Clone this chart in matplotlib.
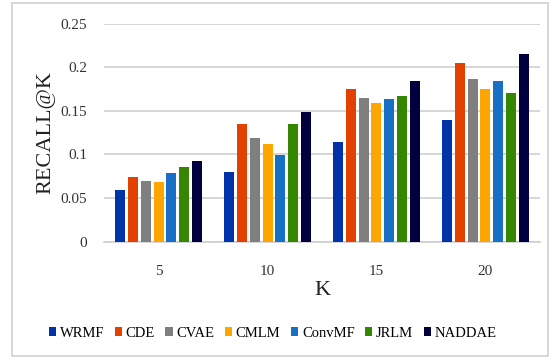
import matplotlib.pyplot as plt
import numpy as np
from matplotlib.patches import Rectangle

plt.rcParams['font.family'] = ['Liberation Serif', 'DejaVu Serif']

# datos
k_values = ['5', '10', '15', '20']
modelos = ['WRMF', 'CDE', 'CVAE', 'CMLM', 'ConvMF', 'JRLM', 'NADDAE']
recall = {
    'WRMF':   [0.059, 0.080, 0.114, 0.139],
    'CDE':    [0.074, 0.135, 0.175, 0.205],
    'CVAE':   [0.070, 0.119, 0.165, 0.187],
    'CMLM':   [0.068, 0.112, 0.159, 0.175],
    'ConvMF': [0.079, 0.099, 0.164, 0.184],
    'JRLM':   [0.086, 0.135, 0.167, 0.170],
    'NADDAE': [0.093, 0.149, 0.184, 0.215],
}
colores = ['#0033A8', '#E24100', '#7F7F7F', '#FFA500', '#1870C5', '#358600', '#00003F']

fig = plt.figure(figsize=(5.6, 3.59), dpi=100)
ax = fig.add_axes([0.186, 0.327, 0.778, 0.607])

# marco exterior del grafico
fig.patches.append(Rectangle((12 / 560, 3 / 359), 536 / 560, 353 / 359,
                             transform=fig.transFigure, fill=False,
                             edgecolor='#D0D0D0', linewidth=1.2))

index = np.arange(len(k_values))
paso = 0.117
ancho = 0.092
for i, (m, c) in enumerate(zip(modelos, colores)):
    ax.bar(index + (i - 3) * paso, recall[m], ancho, color=c, label=m, zorder=3)

ax.set_xlim(-0.5, 3.5)
ax.set_ylim(0, 0.25)
ax.set_yticks([0, 0.05, 0.1, 0.15, 0.2, 0.25])
ax.set_yticklabels(['0', '0.05', '0.1', '0.15', '0.2', '0.25'])
ax.set_xticks(index)
ax.set_xticklabels(k_values)
ax.tick_params(axis='both', length=0, labelsize=11, colors='#333333')
ax.tick_params(axis='x', pad=17)
ax.tick_params(axis='y', pad=12)
ax.grid(axis='y', color='#CFCFCF', linewidth=1.2, zorder=0)
for s in ['top', 'right', 'left']:
    ax.spines[s].set_visible(False)
ax.spines['bottom'].set_color('#CFCFCF')
ax.spines['bottom'].set_linewidth(1.2)

ax.set_ylabel('RECALL@K', fontsize=16, color='#222222', labelpad=4)
ax.set_xlabel('K', fontsize=16, color='#222222', labelpad=2)

fig.legend(loc='center', bbox_to_anchor=(0.487, 0.072), ncol=7, frameon=False,
           fontsize=10.5, handlelength=0.5, handleheight=0.5, handletextpad=0.25,
           columnspacing=0.72, borderaxespad=0)

fig.savefig('out.png', dpi=100)
